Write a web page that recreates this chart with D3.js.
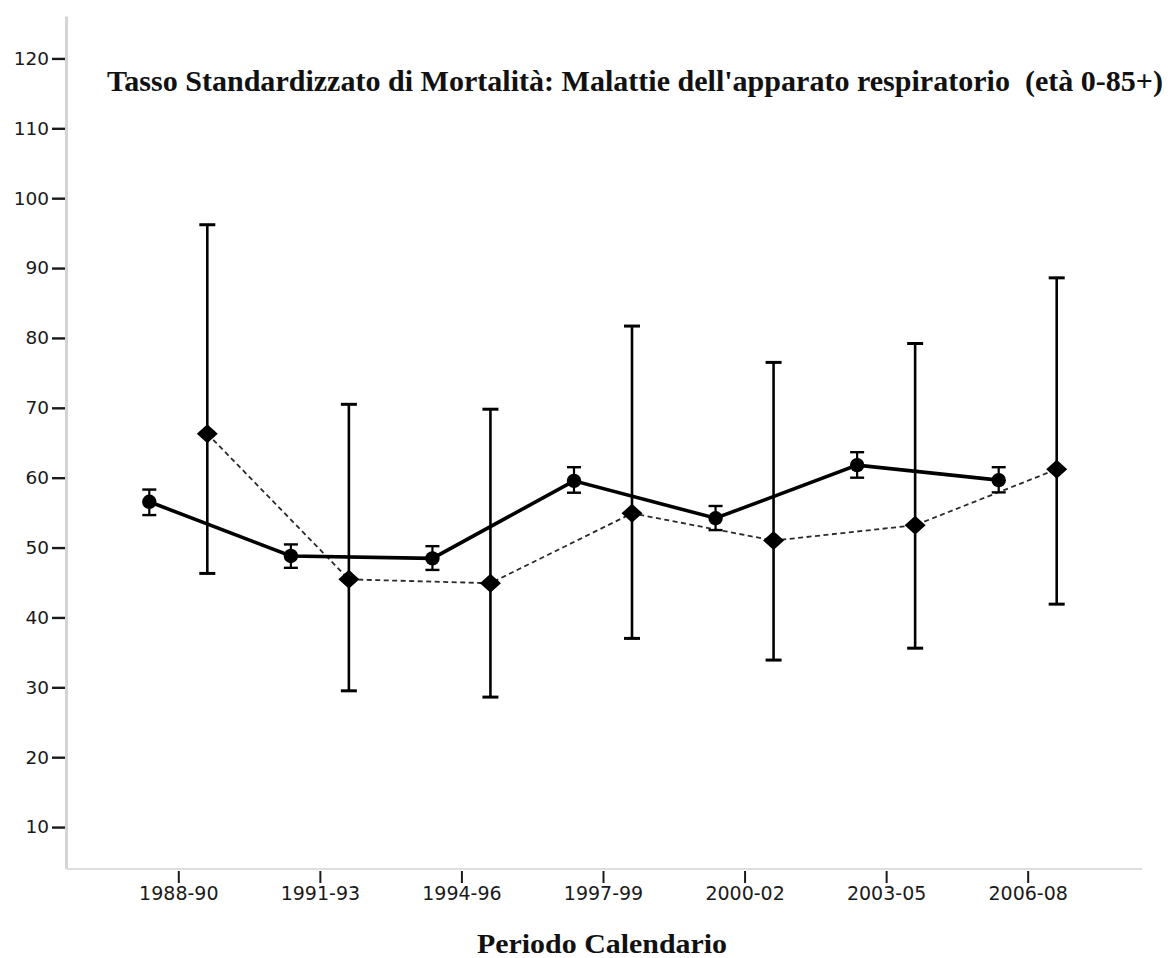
<!DOCTYPE html>
<html>
<head>
<meta charset="utf-8">
<script src="https://cdn.jsdelivr.net/npm/d3@7"></script>
<style>
  html, body { margin: 0; padding: 0; background: #fff; }
  svg { display: block; }
</style>
</head>
<body>
<svg id="chart" width="1170" height="958"></svg>
<script>
// Calendar periods (three-year windows)
const periods = ["1988-90", "1991-93", "1994-96", "1997-99", "2000-02", "2003-05", "2006-08"];

// Reference population: standardized rate with 95% CI (solid line, circles)
const refRate = [56.55, 48.8, 48.45, 59.55, 54.2, 61.8, 59.65];
const refLow  = [54.65, 47.1, 46.8, 57.85, 52.5, 60.0, 57.9];
const refHigh = [58.3, 50.45, 50.2, 61.5, 55.95, 63.65, 61.5];

// Study area: standardized rate with 95% CI (dashed line, diamonds)
const areaRate = [66.3, 45.45, 44.9, 54.9, 51.0, 53.2, 61.2];
const areaLow  = [46.3, 29.5, 28.6, 37.0, 33.9, 35.6, 41.9];
const areaHigh = [96.2, 70.5, 69.8, 81.7, 76.5, 79.2, 88.6];

// Y axis ticks
const yTicks = [10, 20, 30, 40, 50, 60, 70, 80, 90, 100, 110, 120];

const titleText = "Tasso Standardizzato di Mortalità: Malattie dell'apparato respiratorio  (età 0-85+)";
const xTitle = "Periodo Calendario";

const svg = d3.select("#chart");

const x = d3.scalePoint().domain(periods).range([178.3, 1027.7]);
const y = d3.scaleLinear().domain([4, 126]).range([869, 16.5]);

const offset = 29;   // horizontal dodge between the two series
const frameLeft = 66.5, frameRight = 1142;

// Axis frame lines
svg.append("line")
  .attr("x1", frameLeft).attr("x2", frameLeft)
  .attr("y1", y(126)).attr("y2", y(4))
  .attr("stroke", "#d4d4d4").attr("stroke-width", 3);
svg.append("line")
  .attr("x1", frameLeft).attr("x2", frameRight)
  .attr("y1", y(4)).attr("y2", y(4))
  .attr("stroke", "#dedede").attr("stroke-width", 2);

// Y axis
const yAxis = d3.axisLeft(y).tickValues(yTicks).tickSize(13).tickPadding(3).tickFormat(d3.format("d"));
const gy = svg.append("g").attr("transform", `translate(${frameLeft - 1.5},0)`).call(yAxis);
gy.select(".domain").remove();
gy.selectAll(".tick line").attr("stroke", "#1a1a1a").attr("stroke-width", 2.4);
gy.selectAll(".tick text")
  .attr("fill", "#1a1a1a")
  .style("font-family", "'DejaVu Sans', sans-serif")
  .style("font-size", "18.5px");

// X axis
const xAxis = d3.axisBottom(x).tickSize(12).tickPadding(4);
const gx = svg.append("g").attr("transform", `translate(0,${y(4) + 2})`).call(xAxis);
gx.select(".domain").remove();
gx.selectAll(".tick line").attr("stroke", "#1a1a1a").attr("stroke-width", 2);
gx.selectAll(".tick text")
  .attr("fill", "#1a1a1a")
  .style("font-family", "'DejaVu Sans', sans-serif")
  .style("font-size", "19px");

// Title
svg.append("text")
  .attr("x", 107).attr("y", 91)
  .attr("textLength", 1056).attr("lengthAdjust", "spacingAndGlyphs")
  .style("font-family", "'Liberation Serif', 'Times New Roman', serif")
  .style("font-weight", "bold").style("font-size", "29px")
  .attr("fill", "#111")
  .style("white-space", "pre")
  .text(titleText);

// X axis title
svg.append("text")
  .attr("x", 477).attr("y", 953)
  .attr("textLength", 250).attr("lengthAdjust", "spacingAndGlyphs")
  .style("font-family", "'Liberation Serif', 'Times New Roman', serif")
  .style("font-weight", "bold").style("font-size", "28px")
  .attr("fill", "#111")
  .text(xTitle);

const refData = periods.map((p, i) => ({ p, v: refRate[i], lo: refLow[i], hi: refHigh[i] }));
const areaData = periods.map((p, i) => ({ p, v: areaRate[i], lo: areaLow[i], hi: areaHigh[i] }));

const xr = d => x(d.p) - offset;
const xa = d => x(d.p) + offset;

// Dashed line for study area
svg.append("path")
  .datum(areaData)
  .attr("fill", "none").attr("stroke", "#2a2a2a")
  .attr("stroke-width", 1.8).attr("stroke-dasharray", "5,3.5")
  .attr("d", d3.line().x(xa).y(d => y(d.v)));

// Solid line for reference
svg.append("path")
  .datum(refData)
  .attr("fill", "none").attr("stroke", "#000")
  .attr("stroke-width", 3.6)
  .attr("d", d3.line().x(xr).y(d => y(d.v)));

// Error bars
function errorBars(data, xf, capHalf, lineW, capW) {
  const g = svg.append("g").attr("stroke", "#000");
  g.selectAll("line.v").data(data).join("line")
    .attr("x1", xf).attr("x2", xf)
    .attr("y1", d => y(d.hi)).attr("y2", d => y(d.lo))
    .attr("stroke-width", lineW);
  g.selectAll("line.t").data(data).join("line")
    .attr("x1", d => xf(d) - capHalf).attr("x2", d => xf(d) + capHalf)
    .attr("y1", d => y(d.hi)).attr("y2", d => y(d.hi))
    .attr("stroke-width", capW);
  g.selectAll("line.b").data(data).join("line")
    .attr("x1", d => xf(d) - capHalf).attr("x2", d => xf(d) + capHalf)
    .attr("y1", d => y(d.lo)).attr("y2", d => y(d.lo))
    .attr("stroke-width", capW);
}
errorBars(areaData, xa, 8, 2.6, 3);
errorBars(refData, xr, 7, 2.2, 2.4);

// Markers: circles for reference
svg.append("g").selectAll("circle").data(refData).join("circle")
  .attr("cx", xr).attr("cy", d => y(d.v)).attr("r", 7.2)
  .attr("fill", "#000");

// Markers: diamonds for study area
svg.append("g").selectAll("path").data(areaData).join("path")
  .attr("d", d => {
    const cx = xa(d), cy = y(d.v), w = 10.5, h = 9.5;
    return `M${cx},${cy - h}L${cx + w},${cy}L${cx},${cy + h}L${cx - w},${cy}Z`;
  })
  .attr("fill", "#000");
</script>
</body>
</html>
